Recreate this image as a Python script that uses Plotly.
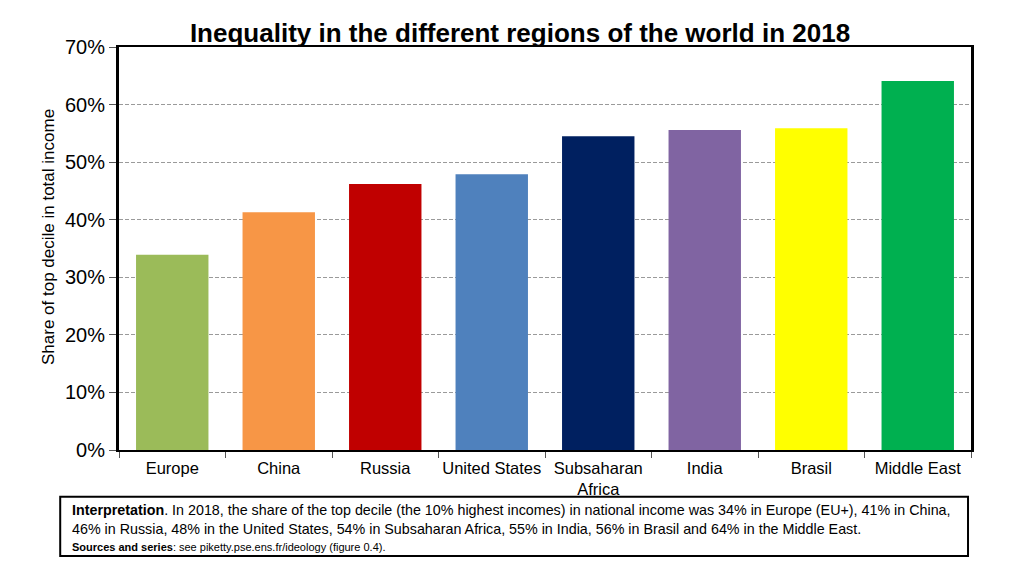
import plotly.graph_objects as go

regions = ["Europe", "China", "Russia", "United States", "Subsaharan<br>Africa", "India", "Brasil", "Middle East"]
shares = [0.339, 0.413, 0.462, 0.479, 0.545, 0.556, 0.559, 0.641]
colors = ["#9BBB59", "#F79646", "#C00000", "#4F81BD", "#002060", "#8064A2", "#FFFF00", "#00B050"]
y_ticks = [0, 0.1, 0.2, 0.3, 0.4, 0.5, 0.6, 0.7]

fig = go.Figure(go.Bar(x=regions, y=shares, marker=dict(color=colors, line=dict(width=0)), width=0.68))

fig.update_layout(
    width=1024, height=576,
    margin=dict(l=111, r=61, t=39, b=134),
    plot_bgcolor="white", paper_bgcolor="white",
    font=dict(family="Liberation Sans, Arial, sans-serif", color="black"),
    title=dict(text="<b>Inequality in the different regions of the world in 2018</b>",
               x=0.5, xanchor="center", y=0.957, yanchor="middle", font=dict(size=26)),
    showlegend=False,
)
fig.update_yaxes(range=[0, 0.7], tickvals=y_ticks, tickformat=".0%", tickfont=dict(size=20),
                 showgrid=True, gridcolor="#9a9a9a", griddash="4px,2px", gridwidth=1,
                 ticks="outside", ticklen=7, tickcolor="#555",
                 showline=True, linecolor="black", linewidth=3, mirror=True,
                 zeroline=False)
fig.update_xaxes(tickfont=dict(size=16.5), tickangle=0, ticks="outside", tickson="boundaries", ticklen=6,
                 ticklabelstandoff=2,
                 tickcolor="#555", showline=True, linecolor="black", linewidth=2, mirror=True)

fig.add_annotation(text="Share of top decile in total income", textangle=-90, xref="paper", yref="paper",
                   x=(48 - 119) / 852, y=(450 - 237) / 403, xanchor="center", yanchor="middle",
                   showarrow=False, font=dict(size=17))

fig.add_shape(type="rect", xref="paper", yref="paper", x0=-0.069, x1=0.9965, y0=-0.263, y1=-0.116,
              line=dict(color="black", width=2), fillcolor="rgba(0,0,0,0)", layer="below")
lines = [
    "<b>Interpretation</b>. In 2018, the share of the top decile (the 10% highest incomes) in national income was 34% in Europe (EU+), 41% in China,",
    "46% in Russia, 48% in the United States, 54% in Subsaharan Africa, 55% in India, 56% in Brasil and 64% in the Middle East.",
    "<b>Sources and series</b>: see piketty.pse.ens.fr/ideology (figure 0.4).",
]
ys = [510, 529, 547]
sizes = [14.3, 14.3, 11]
for t, yp, s in zip(lines, ys, sizes):
    fig.add_annotation(text=t, xref="paper", yref="paper", x=(70 - 119) / 852, y=(450 - yp) / 403,
                       xanchor="left", yanchor="middle", showarrow=False, font=dict(size=s))

fig.write_html("out.html")
